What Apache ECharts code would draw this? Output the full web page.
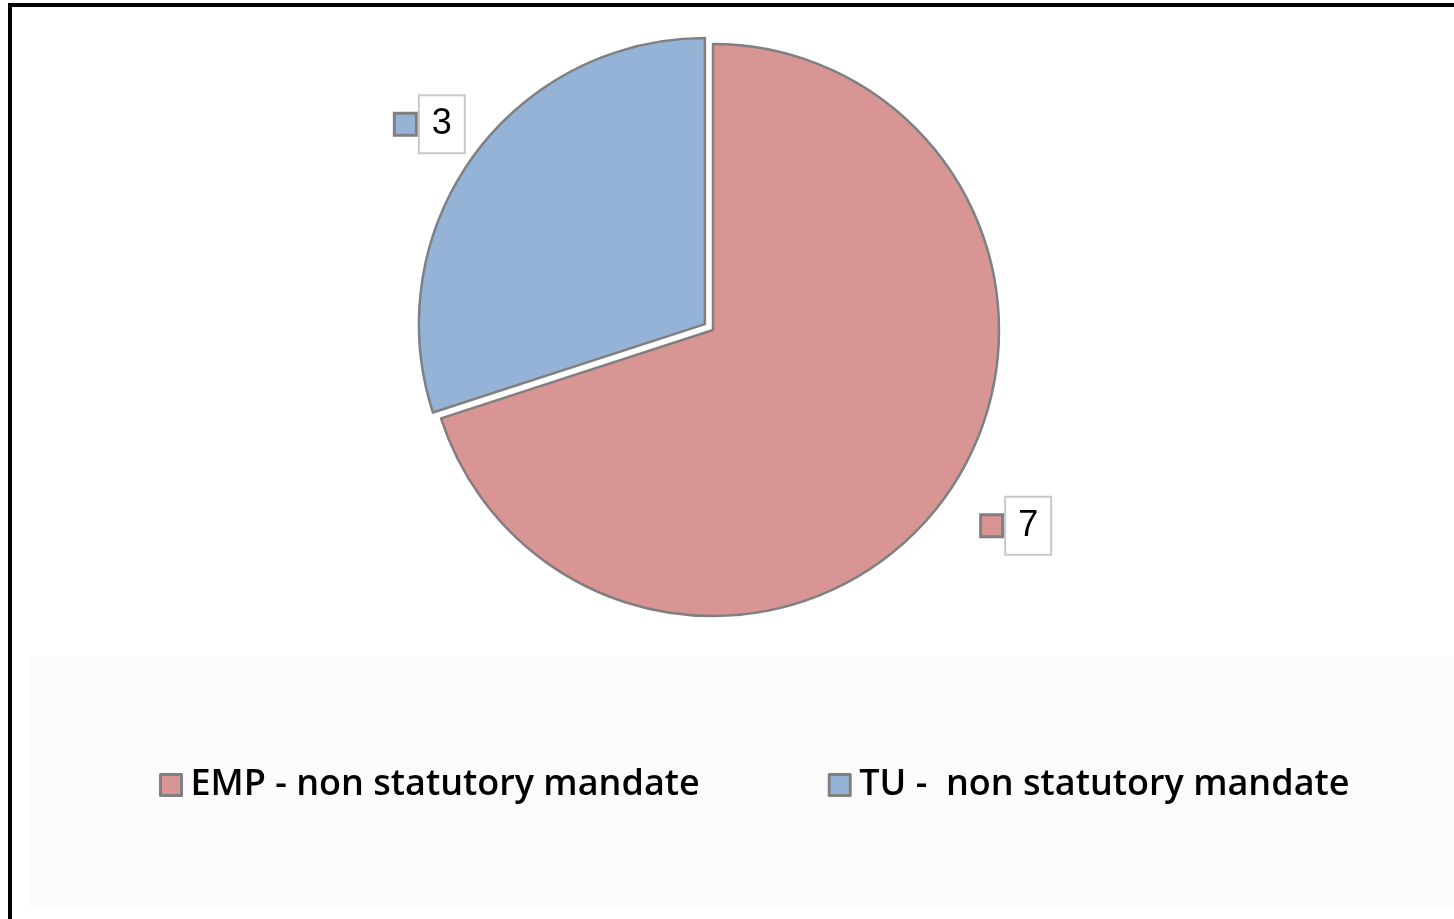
<!DOCTYPE html>
<html>
<head>
<meta charset="utf-8">
<script src="https://cdn.jsdelivr.net/npm/echarts@6/dist/echarts.min.js"></script>
<style>
html,body{margin:0;padding:0;background:#fff;}
#chart{width:1454px;height:919px;}
</style>
</head>
<body>
<div id="chart"></div>
<script>
// ---- data ----
const categories = ['EMP - non statutory mandate', 'TU -  non statutory mandate'];
const values = [7, 3];
const colors = ['#D99594', '#95B3D7'];
const selectedCategory = 'TU -  non statutory mandate';
// label nudges (style only)
const labelNudges = [[20, -10], [0, 0]];

const chart = echarts.init(document.getElementById('chart'));

const pieData = categories.map((name, i) => ({
  name: name,
  value: values[i],
  selected: name === selectedCategory,
  itemStyle: { color: colors[i] }
}));

const labelData = categories.map((name, i) => ({
  name: name,
  value: values[i],
  label: { offset: labelNudges[i] }
}));

const center = [713, 330];

const option = {
  backgroundColor: '#ffffff',
  animation: false,
  graphic: [
    { type: 'rect', z: -10, shape: { x: 30, y: 657, width: 1424, height: 250 }, style: { fill: '#fbfbfb' } },
    { type: 'rect', z: 100, shape: { x: 8, y: 3, width: 4, height: 916 }, style: { fill: '#000' } },
    { type: 'rect', z: 100, shape: { x: 8, y: 3, width: 1446, height: 4 }, style: { fill: '#000' } }
  ],
  legend: {
    data: categories,
    orient: 'horizontal',
    left: 154,
    top: 762,
    itemWidth: 21,
    itemHeight: 21,
    itemGap: 128,
    icon: 'rect',
    itemStyle: { borderColor: '#808080', borderWidth: 3 },
    textStyle: {
      fontFamily: 'Open Sans',
      fontWeight: 600,
      fontSize: 36,
      color: '#000',
      padding: [0, 0, 0, 4]
    },
    selectedMode: false
  },
  series: [
    {
      type: 'pie',
      center: center,
      radius: 286,
      startAngle: 90,
      clockwise: true,
      selectedMode: 'single',
      selectedOffset: 10,
      silent: true,
      itemStyle: { borderColor: '#808080', borderWidth: 2.5 },
      label: { show: false },
      labelLine: { show: false },
      emphasis: { disabled: true },
      data: pieData
    },
    {
      type: 'pie',
      center: center,
      radius: [300, 394],
      startAngle: 90,
      clockwise: true,
      selectedMode: false,
      silent: true,
      legendHoverLink: false,
      itemStyle: { color: 'rgba(0,0,0,0)' },
      emphasis: { disabled: true },
      labelLine: { show: false },
      label: {
        show: true,
        position: 'inside',
        formatter: p => '{sq' + p.dataIndex + '|}{gap|}{box|' + p.value + '}',
        rich: {
          sq0: { width: 19, height: 19, backgroundColor: colors[0], borderColor: '#808080', borderWidth: 3 },
          sq1: { width: 19, height: 19, backgroundColor: colors[1], borderColor: '#808080', borderWidth: 3 },
          gap: { width: 5 },
          box: {
            fontFamily: 'Liberation Sans',
            fontSize: 36,
            color: '#000',
            align: 'center',
            width: 24,
            height: 42,
            lineHeight: 42,
            padding: [7, 10, 7, 10],
            backgroundColor: '#fff',
            borderColor: '#c8c8c8',
            borderWidth: 2
          }
        }
      },
      data: labelData
    }
  ]
};

chart.setOption(option);
</script>
</body>
</html>
